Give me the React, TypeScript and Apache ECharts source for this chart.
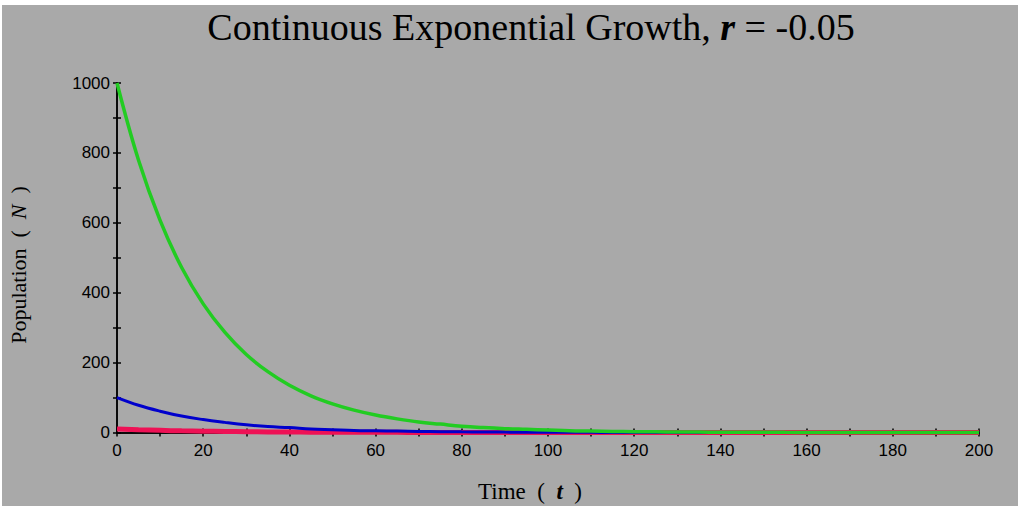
import React, { useEffect, useRef } from "react";
import * as echarts from "echarts";

const times = [0, 5, 10, 15, 20, 25, 30, 35, 40, 45, 50, 55, 60, 65, 70, 75, 80, 85, 90, 95, 100,
  105, 110, 115, 120, 125, 130, 135, 140, 145, 150, 155, 160, 165, 170, 175, 180, 185, 190, 195, 200];
const greenN = [1000, 779, 607, 472, 368, 287, 223, 174, 135, 105, 82, 64, 50, 39, 30, 24, 18, 14, 11, 9, 7,
  5, 4, 3, 2.5, 2, 1.5, 1.2, 0.9, 0.7, 0.6, 0.4, 0.3, 0.3, 0.2, 0.2, 0.1, 0.1, 0.1, 0.1, 0];
const blueN = [100, 78, 61, 47, 37, 29, 22, 17, 14, 10, 8, 6, 5, 4, 3, 2.4, 1.8, 1.4, 1.1, 0.9, 0.7,
  0.5, 0.4, 0.3, 0.25, 0.2, 0.15, 0.1, 0.1, 0.1, 0.1, 0, 0, 0, 0, 0, 0, 0, 0, 0, 0];
const redN = [10, 7.8, 6.1, 4.7, 3.7, 2.9, 2.2, 1.7, 1.4, 1, 0.8, 0.6, 0.5, 0.4, 0.3, 0.2, 0.2, 0.1, 0.1, 0.1, 0.1,
  0, 0, 0, 0, 0, 0, 0, 0, 0, 0, 0, 0, 0, 0, 0, 0, 0, 0, 0, 0];

const pairs = (ys: number[]) => times.map((t, i) => [t, ys[i]]);

export default function App() {
  const ref = useRef<HTMLDivElement>(null);
  useEffect(() => {
    if (!ref.current) return;
    const chart = echarts.init(ref.current, undefined, { renderer: "svg" });
    const serif = "'Liberation Serif', 'Times New Roman', serif";
    const sans = "'Liberation Sans', Arial, sans-serif";
    const baseX = {
      type: "value",
      min: 0,
      max: 200,
      interval: 20,
      position: "bottom",
      axisLine: { onZero: true, lineStyle: { color: "#000", width: 1.5 } },
      splitLine: { show: false },
    };
    const baseY = {
      type: "value",
      min: 0,
      max: 1000,
      interval: 200,
      position: "left",
      axisLine: { lineStyle: { color: "#000", width: 1.5 } },
      splitLine: { show: false },
    };
    const tickStyle = { color: "#000", width: 1.5 };
    chart.setOption({
      animation: false,
      backgroundColor: "#ffffff",
      grid: { left: 117, right: 42, top: 83, bottom: 73.5, containLabel: false },
      graphic: [
        { type: "rect", z: -10, shape: { x: 2, y: 5, width: 1016, height: 501 }, style: { fill: "#a9a9a9" } },
        {
          type: "text", x: 531, y: 27, z: 10,
          style: {
            text: "{a|Continuous Exponential Growth, }{i|r}{a| = -0.05}",
            align: "center", verticalAlign: "middle",
            rich: {
              a: { fontFamily: serif, fontSize: 38, fill: "#000" },
              i: { fontFamily: serif, fontSize: 38, fontStyle: "italic", fontWeight: "bold", fill: "#000" },
            },
          },
        },
        {
          type: "text", x: 530, y: 491, z: 10,
          style: {
            text: "{a|Time  (  }{i|t}{a|  )}",
            align: "center", verticalAlign: "middle",
            rich: {
              a: { fontFamily: serif, fontSize: 23, fill: "#000" },
              i: { fontFamily: serif, fontSize: 23, fontStyle: "italic", fontWeight: "bold", fill: "#000" },
            },
          },
        },
        {
          type: "text", x: 18, y: 265, z: 10, rotation: Math.PI / 2,
          style: {
            text: "{a|Population  (  }{i|N}{a|  )}",
            align: "center", verticalAlign: "middle",
            rich: {
              a: { fontFamily: serif, fontSize: 22, fill: "#000" },
              i: { fontFamily: serif, fontSize: 22, fontStyle: "italic", fill: "#000" },
            },
          },
        },
      ],
      xAxis: [
        {
          ...baseX,
          axisTick: { show: true, inside: false, length: 4, lineStyle: tickStyle },
          minorTick: { show: true, splitNumber: 2, length: 4, lineStyle: tickStyle },
          axisLabel: { color: "#000", fontFamily: sans, fontSize: 17, margin: 9, formatter: (v: number) => String(v) },
        },
        {
          ...baseX,
          axisTick: { show: true, inside: true, length: 4, lineStyle: tickStyle },
          minorTick: { show: true, splitNumber: 2, length: 4, lineStyle: tickStyle },
          axisLabel: { show: false },
        },
      ],
      yAxis: [
        {
          ...baseY,
          axisTick: { show: true, inside: false, length: 4, lineStyle: tickStyle },
          minorTick: { show: true, splitNumber: 2, length: 4, lineStyle: tickStyle },
          axisLabel: { color: "#000", fontFamily: sans, fontSize: 17, margin: 7, formatter: (v: number) => String(v) },
        },
        {
          ...baseY,
          axisTick: { show: true, inside: true, length: 4, lineStyle: tickStyle },
          minorTick: { show: true, splitNumber: 2, length: 4, lineStyle: tickStyle },
          axisLabel: { show: false },
        },
      ],
      series: [
        {
          type: "line", name: "N0 = 10", data: pairs(redN), showSymbol: false, clip: false,
          smooth: 0.4,
          lineStyle: { color: "#ee1155", width: 5 }, z: 3,
        },
        {
          type: "line", name: "N0 = 100", data: pairs(blueN), showSymbol: false, clip: false,
          smooth: 0.4,
          lineStyle: { color: "#0000cc", width: 3 }, z: 4,
        },
        {
          type: "line", name: "N0 = 1000", data: pairs(greenN), showSymbol: false, clip: false,
          smooth: 0.4,
          lineStyle: { color: "#22cc22", width: 3.5 }, z: 5,
        },
      ],
    });
    return () => chart.dispose();
  }, []);
  return (
    <div style={{ position: "fixed", left: 0, top: 0, width: 1021, height: 506 }}>
      <div ref={ref} style={{ width: 1021, height: 506 }} />
    </div>
  );
}
